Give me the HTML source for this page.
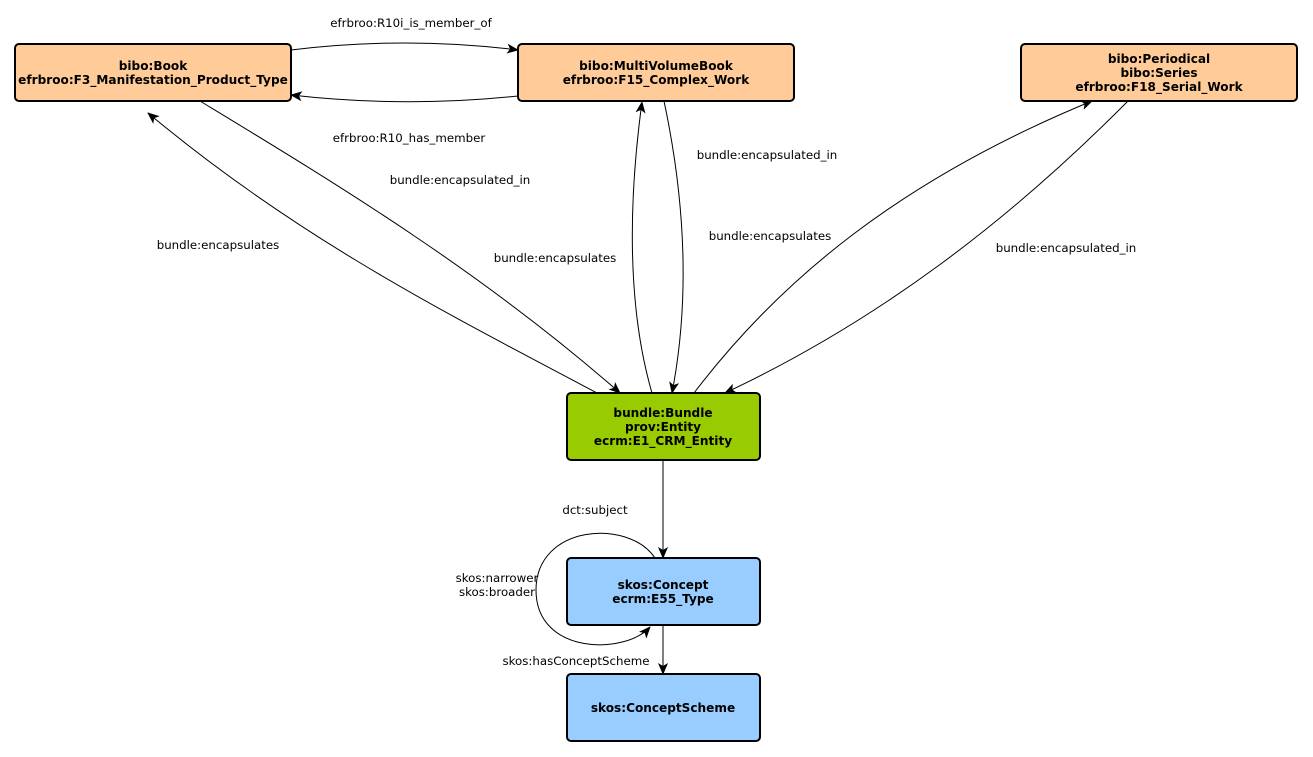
<!DOCTYPE html>
<html><head><meta charset="utf-8"><style>
html,body{margin:0;padding:0;background:#fff;}
svg{display:block;}
text{font-family:"DejaVu Sans",sans-serif;font-size:11.8px;fill:#000;}
.b{font-weight:bold;font-size:12.1px;}
</style></head><body>
<svg width="1313" height="757" viewBox="0 0 1313 757" xmlns="http://www.w3.org/2000/svg">
<defs>
<marker id="a" markerWidth="12" markerHeight="10" refX="11" refY="5" orient="auto" markerUnits="userSpaceOnUse">
<path d="M0,0 L12,5 L0,10 L3,5 Z" fill="#000"/>
</marker>
</defs>
<g fill="none" stroke="#000" stroke-width="1" marker-end="url(#a)">
<path d="M291,50 Q405,36 518,50"/>
<path d="M518,96 Q405,108 291,95"/>
<path d="M597,393 C450,315 300,240 148,113"/>
<path d="M200,101 C330,180 480,270 620,393"/>
<path d="M652,393 C625,300 630,190 642,102"/>
<path d="M664,101 C685,200 690,300 672,393"/>
<path d="M694,393 C780,280 900,180 1092,101"/>
<path d="M1128,101 C1010,220 880,320 725,393"/>
<path d="M663,460 L663,558"/>
<path d="M655,558 C628,518 536,525 536,590 C536,655 625,655 650,627"/>
<path d="M663,625 L663,674"/>
</g>
<g stroke="#000" stroke-width="2">
<rect x="15" y="44" width="276" height="57" rx="4" fill="#ffcc99"/>
<rect x="518" y="44" width="276" height="57" rx="4" fill="#ffcc99"/>
<rect x="1021" y="44" width="276" height="57" rx="4" fill="#ffcc99"/>
<rect x="567" y="393" width="193" height="67" rx="4" fill="#99cc00"/>
<rect x="567" y="558" width="193" height="67" rx="4" fill="#99ccff"/>
<rect x="567" y="674" width="193" height="67" rx="4" fill="#99ccff"/>
</g>
<g text-anchor="middle">
<text class="b" x="153" y="70">bibo:Book</text>
<text class="b" x="153" y="84">efrbroo:F3_Manifestation_Product_Type</text>
<text class="b" x="656" y="70">bibo:MultiVolumeBook</text>
<text class="b" x="656" y="84">efrbroo:F15_Complex_Work</text>
<text class="b" x="1159" y="63">bibo:Periodical</text>
<text class="b" x="1159" y="77">bibo:Series</text>
<text class="b" x="1159" y="91">efrbroo:F18_Serial_Work</text>
<text class="b" x="663" y="417">bundle:Bundle</text>
<text class="b" x="663" y="431">prov:Entity</text>
<text class="b" x="663" y="445">ecrm:E1_CRM_Entity</text>
<text class="b" x="663" y="589">skos:Concept</text>
<text class="b" x="663" y="603">ecrm:E55_Type</text>
<text class="b" x="663" y="712">skos:ConceptScheme</text>

<text x="411" y="27">efrbroo:R10i_is_member_of</text>
<text x="409" y="142">efrbroo:R10_has_member</text>
<text x="460" y="184">bundle:encapsulated_in</text>
<text x="218" y="249">bundle:encapsulates</text>
<text x="555" y="262">bundle:encapsulates</text>
<text x="767" y="159">bundle:encapsulated_in</text>
<text x="770" y="240">bundle:encapsulates</text>
<text x="1066" y="252">bundle:encapsulated_in</text>
<text x="595" y="514">dct:subject</text>
<text x="497" y="582">skos:narrower</text>
<text x="497" y="596">skos:broader</text>
<text x="576" y="665">skos:hasConceptScheme</text>
</g>
</svg>
</body></html>
